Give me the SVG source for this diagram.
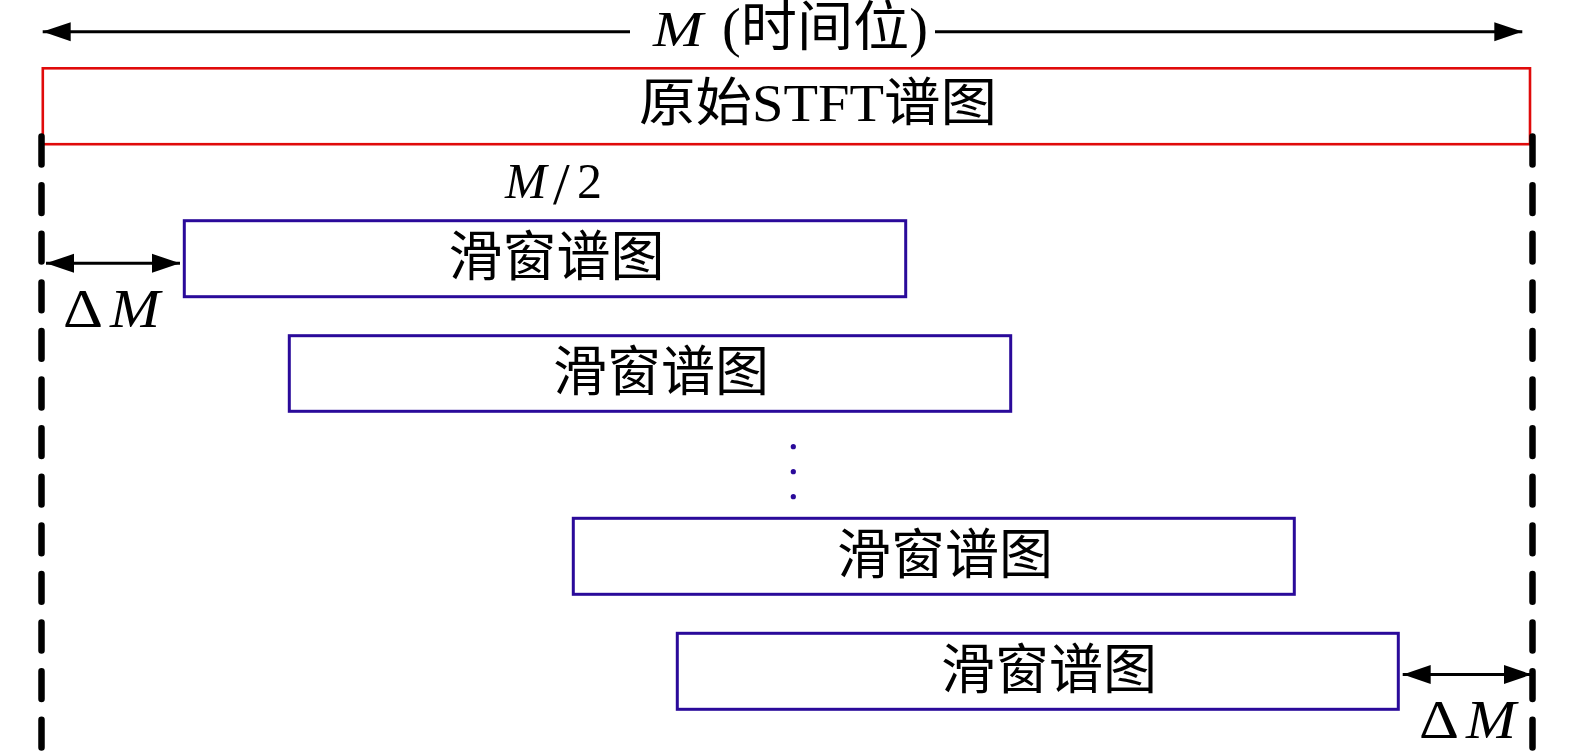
<svg xmlns="http://www.w3.org/2000/svg" width="1575" height="755" viewBox="0 0 1575 755">
<defs>
<style>
.win{fill:none;stroke:#2a0a9a;stroke-width:3}
.orig{fill:none;stroke:#e00a0a;stroke-width:2.6}
.dash{stroke:#000;stroke-width:6.5;stroke-linecap:round;stroke-dasharray:27.8 20.8;fill:none}
.arr{stroke:#000;stroke-width:3;fill:none}
.cjk{font-family:"Noto Sans CJK SC","Liberation Serif",sans-serif;fill:#000}
.math{font-family:"Liberation Serif","Noto Sans CJK SC",serif;fill:#000}
</style>
<marker id="ah" markerUnits="userSpaceOnUse" markerWidth="28" markerHeight="20" refX="28" refY="9.5" orient="auto-start-reverse" viewBox="0 0 28 19">
<path d="M0,0 L28,9.5 L0,19 z" fill="#000"/>
</marker>
</defs>

<g id="original">
<rect class="orig" x="42.8" y="68.3" width="1487.2" height="75.9"/>
<text class="cjk" x="639" y="121" font-size="52" textLength="358" lengthAdjust="spacingAndGlyphs">原始<tspan class="math" font-family="Liberation Serif">STFT</tspan>谱图</text>
</g>

<g id="window1">
<rect class="win" x="184.3" y="220.7" width="721.4" height="76"/>
<text class="cjk" x="556.5" y="276" font-size="54" text-anchor="middle">滑窗谱图</text>
</g>
<g id="window2">
<rect class="win" x="289.3" y="335.7" width="721.4" height="75.6"/>
<text class="cjk" x="661" y="391" font-size="54" text-anchor="middle">滑窗谱图</text>
</g>
<g id="ellipsis" fill="#2a0a9a">
<circle cx="793.3" cy="446.7" r="2.6"/>
<circle cx="793.3" cy="471.7" r="2.6"/>
<circle cx="793.3" cy="496.7" r="2.6"/>
</g>
<g id="window3">
<rect class="win" x="573.3" y="518.3" width="721" height="76"/>
<text class="cjk" x="945" y="573.6" font-size="54" text-anchor="middle">滑窗谱图</text>
</g>
<g id="window4">
<rect class="win" x="677.3" y="633.3" width="721" height="76"/>
<text class="cjk" x="1049" y="688.6" font-size="54" text-anchor="middle">滑窗谱图</text>
</g>

<g id="connectors">
<line class="dash" x1="41.5" y1="136.6" x2="41.5" y2="760"/>
<line class="dash" x1="1532.5" y1="136.6" x2="1532.5" y2="760"/>
<line class="arr" x1="630" y1="31.7" x2="42.7" y2="31.7" marker-end="url(#ah)"/>
<line class="arr" x1="935" y1="31.7" x2="1522.3" y2="31.7" marker-end="url(#ah)"/>
<line class="arr" x1="46" y1="263.3" x2="180" y2="263.3" marker-start="url(#ah)" marker-end="url(#ah)"/>
<line class="arr" x1="1402.7" y1="674.5" x2="1531.7" y2="674.5" marker-start="url(#ah)" marker-end="url(#ah)"/>
</g>

<g id="labels">
<text class="math" x="653" y="46" font-size="50" font-style="italic" textLength="50" lengthAdjust="spacingAndGlyphs">M</text>
<text class="math" x="722" y="46" font-size="54" textLength="206" lengthAdjust="spacingAndGlyphs">(时间位)</text>
<text class="math" y="198" font-size="50"><tspan x="505" font-style="italic">M</tspan><tspan x="553" y="204" font-size="60">/</tspan><tspan x="577" y="198">2</tspan></text>
<text class="math" x="63" y="327" font-size="55" textLength="40" lengthAdjust="spacingAndGlyphs">Δ</text>
<text class="math" x="110" y="327" font-size="55" font-style="italic" textLength="50" lengthAdjust="spacingAndGlyphs">M</text>
<text class="math" x="1419" y="738" font-size="55" textLength="40" lengthAdjust="spacingAndGlyphs">Δ</text>
<text class="math" x="1466" y="738" font-size="55" font-style="italic" textLength="50" lengthAdjust="spacingAndGlyphs">M</text>
</g>
</svg>
